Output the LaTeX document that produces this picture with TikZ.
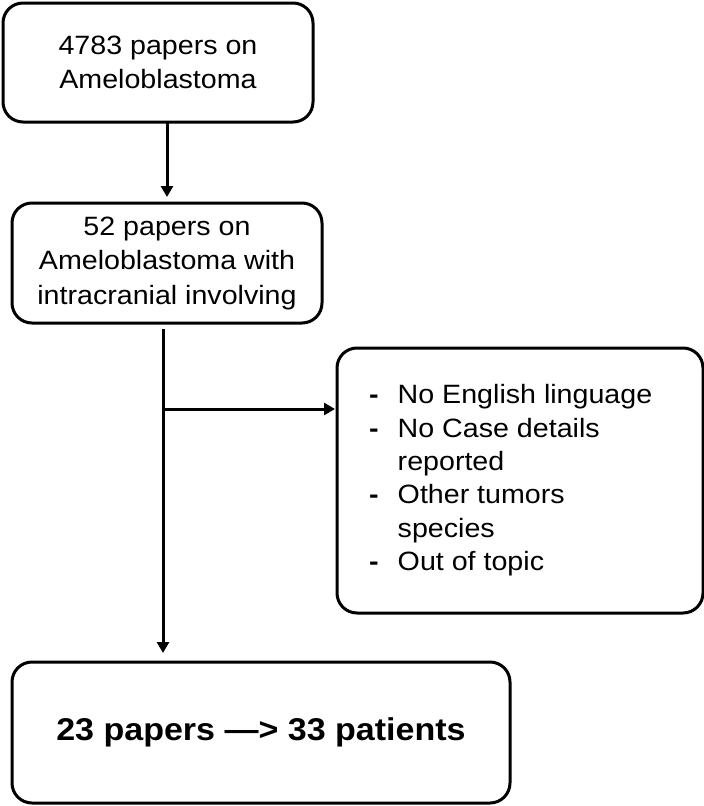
\documentclass[tikz,border=0pt]{standalone}
\usepackage{fontspec}
\setmainfont[FakeStretch=1.08]{Liberation Sans}
\usetikzlibrary{arrows.meta}
\begin{document}
\begin{tikzpicture}[x=1pt,y=-1pt,
  box/.style={draw, line width=3pt, rounded corners=20pt, rectangle, inner sep=0pt, outer sep=0pt},
  conn/.style={line width=3pt, -{Triangle[length=11pt,width=12pt]}},
  txt/.style={font=\fontsize{26.5}{34.5}\selectfont, align=center},
  bigtxt/.style={font=\fontsize{31.5}{38}\selectfont\bfseries, align=center}]
\useasboundingbox (0,0) rectangle (704,806);

\node[box, txt, minimum width=310pt, minimum height=119pt] (b1) at (158,62.5)
  {4783 papers on\\Ameloblastoma};
\node[box, txt, minimum width=310pt, minimum height=120pt] (b2) at (167,263)
  {52 papers on\\Ameloblastoma with\\intracranial involving};
\node[box, minimum width=366pt, minimum height=265pt] (b3) at (520,480.5) {};
\node[anchor=west, inner sep=0pt, font=\fontsize{26.5}{33.3}\selectfont] (t3) at (369,480.5)
  {\begin{tabular}{@{}l@{\hspace{19pt}}l@{}}
   \textbf{-} & No English linguage\\
   \textbf{-} & No Case details\\
     & reported\\
   \textbf{-} & Other tumors\\
     & species\\
   \textbf{-} & Out of topic
   \end{tabular}};
\node[box, bigtxt, minimum width=498pt, minimum height=141pt] (b4) at (261,732.5)
  {23 papers —> 33 patients};

\coordinate (j) at (163,409);

\draw[conn, shorten >=6pt] (b2.north |- b1.south) -- (b2.north);
\draw[conn, shorten <=6pt, shorten >=9pt] ([xshift=-4pt]b2.south) -- ([xshift=-4pt]b2.south |- b4.north);
\draw[conn, shorten >=2pt] (j) -- (j -| b3.west);
\end{tikzpicture}
\end{document}
